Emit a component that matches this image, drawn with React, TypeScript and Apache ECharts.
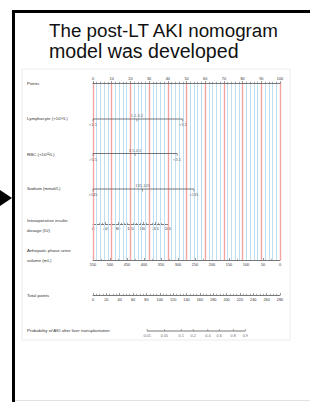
import React, { useEffect, useRef } from 'react';
import * as echarts from 'echarts';

// ---- data ----
const titleLines = ['The post-LT AKI nomogram', 'model was developed'];

const pointsMin = 0;
const pointsMax = 100;

const lymphCats = ['<1.1', '1.1-3.2', '>3.2'];
const lymphPoints = [0, 23.5, 48];

const rbcCats = ['>5.5', '3.5-4.5', '<3.5'];
const rbcPoints = [0, 22.5, 45];

const sodiumCats = ['>145', '135-145', '<135'];
const sodiumPoints = [0, 26.5, 54];

const insulinMax = 240; // IU
const insulinMaxPoints = 40; // points at 240 IU
const urineMax = 550; // mL (reversed)
const totalMax = 280;

const probLabels = ['0.01', '0.05', '0.1', '0.2', '0.4', '0.6', '0.8', '0.9'];
const probTotalPoints = [81, 107, 132, 150, 172, 189, 210, 228];

const rowLabels = [
  'Points',
  'Lymphocyte (×10⁹/L)',
  'RBC (×10¹²/L)',
  'Sodium (mmol/L)',
  'Intraoperative insulin',
  'dosage (IU)',
  'Anhepatic phase urine',
  'volume (mL)',
  'Total points',
  'Probability of AKI after liver transplantation',
];

// ---- layout ----
const FONT = '"Liberation Sans", Arial, sans-serif';
const X0 = 93;
const XW = 187;
const rowLabelY = [83, 118.5, 154, 188.5, 220, 230.5, 250, 260, 295, 330];
const Y_POINTS = 83;
const Y_LYMPH = 119;
const Y_RBC = 153.5;
const Y_SODIUM = 189;
const Y_INSULIN = 224;
const Y_URINE = 260;
const Y_TOTAL = 295;
const Y_PROB = 331;

const AXIS_COLOR = '#555';
const LABEL_COLOR = '#333';

function catRow(cats: string[], pts: number[], xi: number, yi: number) {
  const line = {
    type: 'line',
    xAxisIndex: xi,
    yAxisIndex: yi,
    data: [[pts[0], 0], [pts[pts.length - 1], 0]],
    symbol: 'none',
    lineStyle: { color: AXIS_COLOR, width: 0.8 },
    silent: true,
  };
  const ticks = {
    type: 'scatter',
    xAxisIndex: xi,
    yAxisIndex: yi,
    symbol: 'rect',
    symbolSize: [0.7, 2.4],
    symbolOffset: [0, 1.2],
    itemStyle: { color: AXIS_COLOR },
    data: cats.map((c, i) => ({
      name: c,
      value: [pts[i], 0],
      label: {
        show: true,
        formatter: '{b}',
        position: i % 2 === 1 ? 'top' : 'bottom',
        distance: i % 2 === 1 ? 1.5 : 1.2,
        fontSize: 4,
        color: LABEL_COLOR,
        fontFamily: FONT,
      },
    })),
    silent: true,
  };
  return [line, ticks];
}

const axisLabelBase = {
  fontSize: 3.8,
  color: LABEL_COLOR,
  fontFamily: FONT,
  margin: 2.5,
  showMinLabel: true,
  showMaxLabel: true,
};

export default function App() {
  const ref = useRef<HTMLDivElement>(null);
  useEffect(() => {
    if (!ref.current) return;
    const chart = echarts.init(ref.current, undefined, { renderer: 'svg' });

    const grids = [
      { left: X0, width: XW, top: Y_POINTS, height: Y_URINE - Y_POINTS },
      { left: X0, width: XW, top: Y_LYMPH - 10, height: 20 },
      { left: X0, width: XW, top: Y_RBC - 10, height: 20 },
      { left: X0, width: XW, top: Y_SODIUM - 10, height: 20 },
      { left: X0, width: (XW * insulinMaxPoints) / pointsMax, top: Y_INSULIN - 20, height: 20 },
      { left: X0, width: XW, top: Y_URINE - 20, height: 20 },
      { left: X0, width: XW, top: Y_TOTAL - 20, height: 20 },
      { left: X0, width: XW, top: Y_PROB - 10, height: 20 },
    ].map((g) => ({ ...g, show: false, containLabel: false, outerBoundsMode: 'none' }));

    const hiddenX = (gi: number, max: number) => ({
      gridIndex: gi,
      type: 'value',
      min: 0,
      max,
      show: false,
    });

    const xAxis = [
      // 0: blue split lines every 2 points
      {
        gridIndex: 0,
        type: 'value',
        position: 'bottom',
        min: pointsMin,
        max: pointsMax,
        interval: 2,
        axisLine: { show: false },
        axisTick: { show: false },
        axisLabel: { show: false },
        splitLine: { show: true, lineStyle: { color: '#c0def2', width: 1 } },
        z: 1,
      },
      // 1: Points axis with red split lines every 10
      {
        gridIndex: 0,
        type: 'value',
        position: 'top',
        min: pointsMin,
        max: pointsMax,
        interval: 10,
        axisLine: { show: true, lineStyle: { color: AXIS_COLOR, width: 0.8 } },
        axisTick: { show: true, inside: false, length: 2, lineStyle: { color: AXIS_COLOR, width: 0.6 } },
        minorTick: { show: true, splitNumber: 5, length: 1.2, lineStyle: { color: AXIS_COLOR, width: 0.5 } },
        axisLabel: { ...axisLabelBase, margin: 2 },
        splitLine: { show: true, lineStyle: { color: '#f5a3a3', width: 1.4 } },
        z: 2,
      },
      hiddenX(1, pointsMax),
      hiddenX(2, pointsMax),
      hiddenX(3, pointsMax),
      // 5: insulin
      {
        gridIndex: 4,
        type: 'value',
        position: 'bottom',
        min: 0,
        max: insulinMax,
        interval: 40,
        axisLine: { show: true, lineStyle: { color: AXIS_COLOR, width: 0.8 } },
        axisTick: { show: true, inside: true, length: 2, lineStyle: { color: AXIS_COLOR, width: 0.6 } },
        minorTick: { show: true, splitNumber: 4, length: 1.2, lineStyle: { color: AXIS_COLOR, width: 0.5 } },
        axisLabel: axisLabelBase,
        splitLine: { show: false },
      },
      // 6: urine (reversed)
      {
        gridIndex: 5,
        type: 'value',
        position: 'bottom',
        inverse: true,
        min: 0,
        max: urineMax,
        interval: 50,
        axisLine: { show: true, lineStyle: { color: AXIS_COLOR, width: 0.8 } },
        axisTick: { show: true, inside: true, length: 2, lineStyle: { color: AXIS_COLOR, width: 0.6 } },
        minorTick: { show: true, splitNumber: 2, length: 1.2, lineStyle: { color: AXIS_COLOR, width: 0.5 } },
        axisLabel: axisLabelBase,
        splitLine: { show: false },
      },
      // 7: total points
      {
        gridIndex: 6,
        type: 'value',
        position: 'bottom',
        min: 0,
        max: totalMax,
        interval: 20,
        axisLine: { show: true, lineStyle: { color: AXIS_COLOR, width: 0.8 } },
        axisTick: { show: true, inside: true, length: 2, lineStyle: { color: AXIS_COLOR, width: 0.6 } },
        minorTick: { show: true, splitNumber: 4, length: 1.2, lineStyle: { color: AXIS_COLOR, width: 0.5 } },
        axisLabel: axisLabelBase,
        splitLine: { show: false },
      },
      // 8: probability (on total points scale, hidden)
      hiddenX(7, totalMax),
    ];

    const yAxis = grids.map((_, i) => ({
      gridIndex: i,
      type: 'value',
      show: false,
      min: i === 0 || (i >= 4 && i <= 6) ? 0 : -1,
      max: 1,
    }));

    const series: any[] = [
      ...catRow(lymphCats, lymphPoints, 2, 1),
      ...catRow(rbcCats, rbcPoints, 3, 2),
      ...catRow(sodiumCats, sodiumPoints, 4, 3),
      {
        type: 'line',
        xAxisIndex: 8,
        yAxisIndex: 7,
        data: [[probTotalPoints[0], 0], [probTotalPoints[probTotalPoints.length - 1], 0]],
        symbol: 'none',
        lineStyle: { color: AXIS_COLOR, width: 0.8 },
        silent: true,
      },
      {
        type: 'scatter',
        xAxisIndex: 8,
        yAxisIndex: 7,
        symbol: 'rect',
        symbolSize: [0.6, 2],
        symbolOffset: [0, -1],
        itemStyle: { color: AXIS_COLOR },
        data: probLabels.map((p, i) => ({ name: p, value: [probTotalPoints[i], 0] })),
        label: {
          show: true,
          formatter: '{b}',
          position: 'bottom',
          distance: 2.5,
          fontSize: 3.8,
          color: LABEL_COLOR,
          fontFamily: FONT,
        },
        silent: true,
      },
    ];

    const titleSizes = [18.8, 19.6];

    const graphic: any[] = [
      // chart panel
      {
        type: 'rect',
        shape: { x: 22, y: 69, width: 268, height: 271 },
        style: { fill: '#fff', stroke: '#ececec', lineWidth: 1 },
        z: -10,
        silent: true,
      },
      // slide frame
      { type: 'rect', shape: { x: 12, y: 10, width: 298, height: 3 }, style: { fill: '#000' }, silent: true },
      { type: 'rect', shape: { x: 12, y: 10, width: 3, height: 392 }, style: { fill: '#000' }, silent: true },
      { type: 'line', shape: { x1: 15, y1: 400.5, x2: 310, y2: 400.5 }, style: { stroke: '#e2e2e2', lineWidth: 1 }, silent: true },
      {
        type: 'polygon',
        shape: { points: [[0, 190], [12, 198], [0, 206]] },
        style: { fill: '#000' },
        silent: true,
      },
      // title
      ...titleLines.map((t, i) => ({
        type: 'text',
        x: 49,
        y: 30 + i * 20.5,
        style: {
          text: t,
          fontSize: titleSizes[i],
          fontFamily: FONT,
          fill: '#111',
          verticalAlign: 'middle',
          align: 'left',
        },
        silent: true,
      })),
      // row labels
      ...rowLabels.map((t, i) => ({
        type: 'text',
        x: 27,
        y: rowLabelY[i],
        style: {
          text: t,
          fontSize: 4.4,
          fontFamily: FONT,
          fill: LABEL_COLOR,
          verticalAlign: 'middle',
          align: 'left',
        },
        silent: true,
      })),
    ];

    chart.setOption({
      animation: false,
      backgroundColor: '#fff',
      grid: grids,
      xAxis,
      yAxis,
      series,
      graphic,
    });
    return () => chart.dispose();
  }, []);

  return (
    <div
      ref={ref}
      style={{ position: 'fixed', left: 0, top: 0, width: 310, height: 402 }}
    />
  );
}
